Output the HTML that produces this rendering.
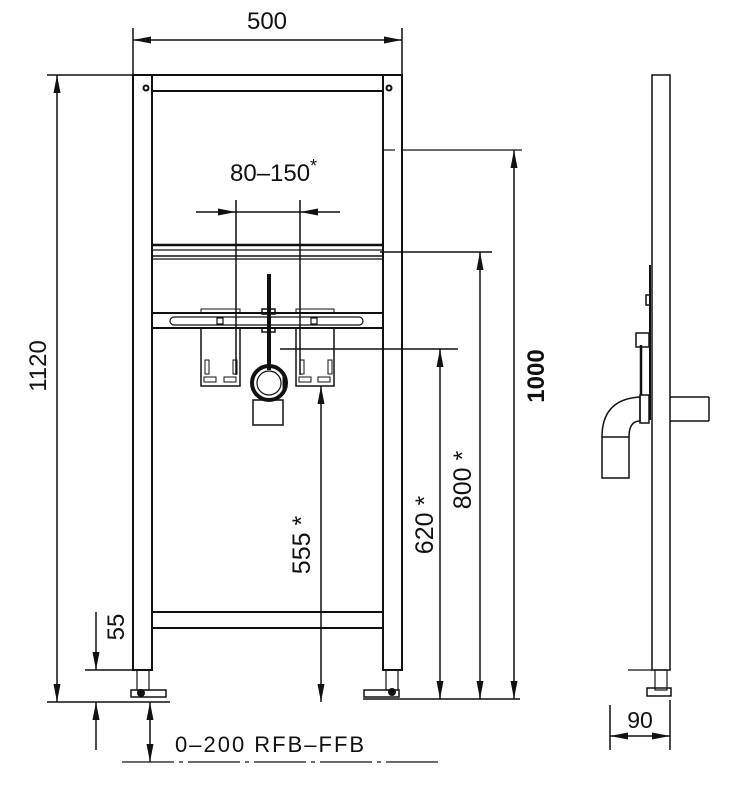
<!DOCTYPE html>
<html><head><meta charset="utf-8"><style>
html,body{margin:0;padding:0;background:#fff;}
svg{display:block;}
text{font-family:"Liberation Sans",sans-serif;fill:#111;}
</style></head><body>
<svg width="747" height="791" viewBox="0 0 747 791" xmlns="http://www.w3.org/2000/svg">
<g stroke="#111" stroke-width="2" fill="none">
<!-- frame -->
<rect x="133" y="75" width="19" height="595"/>
<rect x="383" y="75" width="19" height="595"/>
<line x1="133" y1="75" x2="402" y2="75"/>
<line x1="152" y1="91" x2="383" y2="91"/>
<circle cx="146" cy="88" r="2.5"/>
<circle cx="389" cy="88" r="2.5"/>
<line x1="152" y1="612" x2="383" y2="612"/>
<line x1="152" y1="628" x2="383" y2="628"/>
<!-- rail -->
<line x1="152" y1="245" x2="383" y2="245" stroke-width="2.5"/>
<line x1="152" y1="250" x2="383" y2="250" stroke-width="1.2"/>
<line x1="152" y1="256" x2="383" y2="256" stroke-width="1.5"/>
<line x1="152" y1="259" x2="383" y2="259" stroke-width="1.2"/>
<line x1="152" y1="313" x2="383" y2="313"/>
<line x1="152" y1="328" x2="383" y2="328"/>
<rect x="170" y="317" width="193" height="8" rx="4" stroke-width="1.2"/>
<rect x="201" y="309" width="39" height="4" stroke-width="1"/>
<rect x="296" y="309" width="38" height="4" stroke-width="1"/>
<rect x="217" y="318" width="6" height="6" stroke-width="1.2"/>
<rect x="311" y="318" width="6" height="6" stroke-width="1.2"/>
<!-- boxes -->
<rect x="201" y="328" width="39" height="58" stroke-width="1.5"/>
<rect x="296" y="328" width="38" height="58" stroke-width="1.5"/>
<rect x="205" y="360" width="4" height="14" stroke-width="1"/>
<rect x="233" y="360" width="4" height="14" stroke-width="1"/>
<rect x="204" y="377" width="12" height="5" stroke-width="1"/>
<rect x="224" y="377" width="12" height="5" stroke-width="1"/>
<rect x="300" y="360" width="4" height="14" stroke-width="1"/>
<rect x="328" y="360" width="4" height="14" stroke-width="1"/>
<rect x="299" y="377" width="12" height="5" stroke-width="1"/>
<rect x="318" y="377" width="12" height="5" stroke-width="1"/>
<line x1="269" y1="274" x2="269" y2="370" stroke-width="4"/>
<rect x="262" y="309" width="13" height="5" stroke-width="1.5"/>
<rect x="262" y="328" width="13" height="4" stroke-width="1.5"/>
<circle cx="269" cy="383" r="17" stroke-width="4"/>
<circle cx="269" cy="383" r="12" stroke-width="1.2"/>
<line x1="284" y1="376" x2="284" y2="390" stroke-width="3"/>
<rect x="253" y="400" width="30" height="25" stroke-width="1.5"/>
<!-- 500 -->
<line x1="133" y1="28" x2="133" y2="75" stroke-width="1.5"/>
<line x1="402" y1="28" x2="402" y2="75" stroke-width="1.5"/>
<line x1="133" y1="40" x2="402" y2="40" stroke-width="1.5"/>
<!-- 80-150 -->
<line x1="236" y1="200" x2="236" y2="375" stroke-width="1.5"/>
<line x1="300" y1="200" x2="300" y2="375" stroke-width="1.5"/>
<line x1="196" y1="212" x2="340" y2="212" stroke-width="1.5"/>
<!-- 1120 -->
<line x1="47" y1="75" x2="133" y2="75" stroke-width="1.5"/>
<line x1="57" y1="75" x2="57" y2="702" stroke-width="1.5"/>
<line x1="47" y1="702" x2="170" y2="702" stroke-width="1.5"/>
<!-- 55 -->
<line x1="85" y1="670" x2="133" y2="670" stroke-width="1.5"/>
<line x1="96" y1="612" x2="96" y2="670" stroke-width="1.5"/>
<line x1="96" y1="750" x2="96" y2="702" stroke-width="1.5"/>
<line x1="150" y1="702" x2="150" y2="762" stroke-width="1.5"/>
<line x1="122" y1="762" x2="442" y2="762" stroke-width="1.2" stroke-dasharray="52,5,4,5"/>
<!-- feet -->
<rect x="137" y="670" width="12" height="20" stroke-width="1.2"/>
<rect x="131" y="690" width="35" height="7" stroke-width="1.5"/>
<circle cx="141" cy="693" r="3" fill="#111"/>
<rect x="386" y="670" width="12" height="20" stroke-width="1.2"/>
<rect x="364" y="690" width="35" height="7" stroke-width="1.5"/>
<circle cx="392" cy="692" r="3" fill="#111"/>
<line x1="363" y1="699" x2="520" y2="699" stroke-width="1.5"/>
<!-- 555 / 620 / 800 / 1000 -->
<line x1="321" y1="702" x2="321" y2="386" stroke-width="1.5"/>
<line x1="280" y1="349" x2="458" y2="349" stroke-width="1.5"/>
<line x1="440" y1="699" x2="440" y2="349" stroke-width="1.5"/>
<line x1="380" y1="252" x2="492" y2="252" stroke-width="1.5"/>
<line x1="480" y1="699" x2="480" y2="252" stroke-width="1.5"/>
<line x1="402" y1="150" x2="522" y2="150" stroke-width="1.2"/>
<line x1="384" y1="150" x2="395" y2="150" stroke-width="1.2"/>
<line x1="514" y1="699" x2="514" y2="150" stroke-width="1.5"/>
<!-- side view -->
<rect x="652" y="75" width="18" height="595" stroke-width="1.5"/>
<line x1="628" y1="670" x2="652" y2="670" stroke-width="1.2"/>
<rect x="655" y="670" width="12" height="20" stroke-width="1.2"/>
<rect x="647" y="688" width="24" height="8" stroke-width="1.5"/>
<line x1="670" y1="397" x2="709" y2="397" stroke-width="1.5"/>
<line x1="670" y1="421" x2="709" y2="421" stroke-width="1.5"/>
<line x1="709" y1="397" x2="709" y2="421" stroke-width="1.5"/>
<path d="M640,397 Q602,399 602,437 L602,478 L629,478 L629,437 Q629,421 640,421 Z" stroke-width="1.5"/>
<line x1="602" y1="437" x2="629" y2="437" stroke-width="1.5"/>
<rect x="640" y="395" width="9" height="28" stroke-width="1.5"/>
<line x1="650" y1="265" x2="650" y2="420" stroke-width="2"/>
<line x1="641" y1="345" x2="641" y2="395" stroke-width="2.5"/>
<rect x="636" y="333" width="13" height="14" stroke-width="1.5"/>
<rect x="646" y="295" width="4" height="10" stroke-width="1.5"/>
<line x1="610" y1="705" x2="610" y2="750" stroke-width="1.5"/>
<line x1="670" y1="700" x2="670" y2="750" stroke-width="1.5"/>
<line x1="610" y1="736" x2="670" y2="736" stroke-width="1.5"/>
</g>
<g fill="#111" stroke="none">
<polygon points="133,40 151,36.5 151,43.5"/>
<polygon points="402,40 384,36.5 384,43.5"/>
<polygon points="236,212 218,208.5 218,215.5"/>
<polygon points="300,212 318,208.5 318,215.5"/>
<polygon points="57,75 53.5,93 60.5,93"/>
<polygon points="57,702 53.5,684 60.5,684"/>
<polygon points="96,670 92.5,652 99.5,652"/>
<polygon points="96,702 92.5,720 99.5,720"/>
<polygon points="150,702 146.5,720 153.5,720"/>
<polygon points="150,762 146.5,744 153.5,744"/>
<polygon points="321,386 317.5,404 324.5,404"/>
<polygon points="321,702 317.5,684 324.5,684"/>
<polygon points="440,349 436.5,367 443.5,367"/>
<polygon points="440,699 436.5,681 443.5,681"/>
<polygon points="480,252 476.5,270 483.5,270"/>
<polygon points="480,699 476.5,681 483.5,681"/>
<polygon points="514,150 510.5,168 517.5,168"/>
<polygon points="514,699 510.5,681 517.5,681"/>
<polygon points="610,736 628,732.5 628,739.5"/>
<polygon points="670,736 652,732.5 652,739.5"/>
</g>
<text x="267" y="29" font-size="24" text-anchor="middle">500</text>
<text x="230" y="181" font-size="24">80–150</text>
<text x="310" y="172" font-size="18">*</text>
<text transform="translate(46,366) rotate(-90)" font-size="24" text-anchor="middle">1120</text>
<text transform="translate(124,627) rotate(-90)" font-size="24" text-anchor="middle">55</text>
<text transform="translate(310,545) rotate(-90)" font-size="25" text-anchor="middle">555 *</text>
<text transform="translate(433,525) rotate(-90)" font-size="25" text-anchor="middle">620 *</text>
<text transform="translate(471,480) rotate(-90)" font-size="25" text-anchor="middle">800 *</text>
<text transform="translate(544,376) rotate(-90)" font-size="24" font-weight="bold" text-anchor="middle">1000</text>
<text x="175" y="752" font-size="22" letter-spacing="2">0–200 RFB–FFB</text>
<text x="640" y="728" font-size="23" text-anchor="middle">90</text>
</svg>
</body></html>
